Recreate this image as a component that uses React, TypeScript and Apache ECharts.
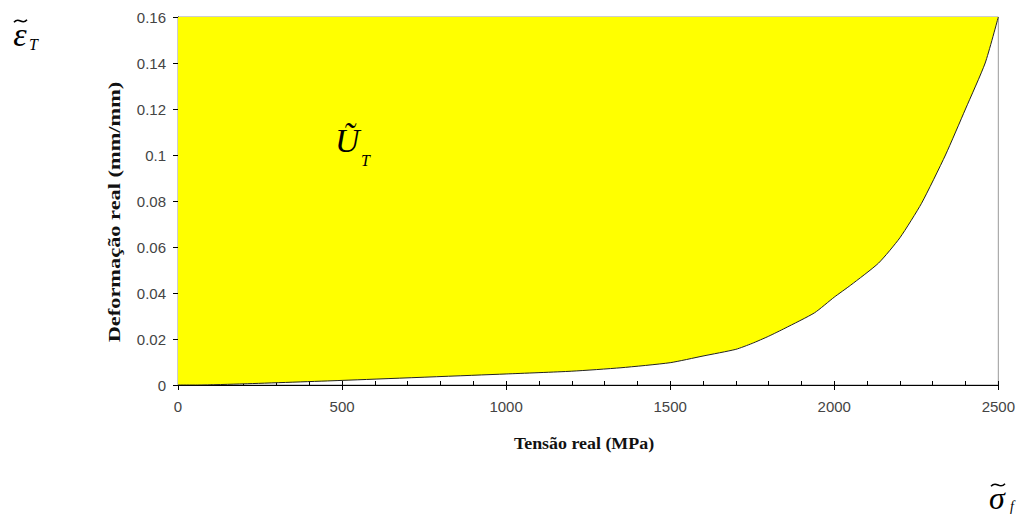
import React, { useEffect, useRef } from "react";
import * as echarts from "echarts";

// True stress (MPa) vs. true strain (mm/mm)
const stressMPa = [0, 60, 200, 500, 1000, 1200, 1350, 1500, 1600, 1700, 1750, 1800, 1850, 1940, 2000, 2050, 2135, 2200, 2266, 2339, 2400, 2460, 2500];
const strainValues = [0, 0, 0.0005, 0.002, 0.0048, 0.006, 0.0075, 0.0097, 0.0126, 0.0155, 0.0181, 0.0212, 0.0247, 0.0314, 0.0382, 0.0434, 0.053, 0.064, 0.079, 0.1, 0.12, 0.14, 0.16];

const xAxisTitle = "Tensão real (MPa)";
const yAxisTitle = "Deformação real (mm/mm)";

const serif = "'Liberation Serif', 'Times New Roman', serif";
const sans = "'Liberation Sans', Arial, sans-serif";

export default function App() {
  const ref = useRef<HTMLDivElement>(null);

  useEffect(() => {
    if (!ref.current) return;
    const chart = echarts.init(ref.current, undefined, { renderer: "svg" });

    const data = stressMPa.map((s, i) => [s, strainValues[i]]);

    const mathText = (
      x: number,
      y: number,
      text: string,
      size: number,
      align: string = "left"
    ) => ({
      type: "text",
      x,
      y,
      z: 100,
      style: {
        text,
        fontFamily: serif,
        fontStyle: "italic",
        fontSize: size,
        fill: "#000",
        align,
        verticalAlign: "middle",
      },
    });

    // a small wave drawn as the tilde accent over a symbol
    const tilde = (x1: number, x2: number, yMid: number) => {
      const w = x2 - x1;
      return {
        type: "bezierCurve",
        z: 100,
        shape: {
          x1,
          y1: yMid + 1.2,
          cpx1: x1 + w * 0.42,
          cpy1: yMid - 5,
          cpx2: x1 + w * 0.58,
          cpy2: yMid + 5,
          x2,
          y2: yMid - 1.2,
        },
        style: { stroke: "#000", lineWidth: 1.6, fill: null },
      };
    };

    chart.setOption({
      animation: false,
      backgroundColor: "#fff",
      grid: {
        left: 178,
        right: 19,
        top: 17,
        bottom: 130,
        show: true,
        borderColor: "#9a9a9a",
        borderWidth: 1,
        backgroundColor: "transparent",
      },
      xAxis: [
        {
          type: "value",
          min: 0,
          max: 2500,
          interval: 500,
          axisLine: { show: true, onZero: false, lineStyle: { color: "#000", width: 1 } },
          axisTick: { show: true, inside: false, length: 5, lineStyle: { color: "#000" } },
          axisLabel: {
            color: "#444",
            fontFamily: sans,
            fontSize: 15,
            margin: 14,
            formatter: (v: number) => String(v),
          },
          splitLine: { show: false },
        },
        {
          type: "value",
          min: 0,
          max: 2500,
          interval: 100,
          position: "bottom",
          axisLine: { show: false, onZero: false },
          axisTick: { show: true, inside: true, length: 4, lineStyle: { color: "#000" } },
          axisLabel: { show: false },
          splitLine: { show: false },
        },
      ],
      yAxis: [
        {
          type: "value",
          min: 0,
          max: 0.16,
          interval: 0.02,
          position: "left",
          axisLine: { show: true, onZero: false, lineStyle: { color: "#000", width: 1 } },
          axisTick: { show: true, inside: false, length: 5, lineStyle: { color: "#000" } },
          axisLabel: { color: "#444", fontFamily: sans, fontSize: 15, margin: 12 },
          splitLine: { show: false },
        },
        {
          type: "value",
          min: 0,
          max: 0.16,
          interval: 0.004,
          position: "left",
          offset: 0,
          axisLine: { show: false, onZero: false },
          axisTick: { show: true, inside: true, length: 4, lineStyle: { color: "#000" } },
          axisLabel: { show: false },
          splitLine: { show: false },
        },
      ],
      series: [
        {
          type: "line",
          xAxisIndex: 0,
          yAxisIndex: 0,
          data,
          smooth: 0.2,
          showSymbol: false,
          symbol: "none",
          lineStyle: { color: "#222", width: 1 },
          areaStyle: { color: "#ffff00", opacity: 1, origin: "end" },
          z: 1,
        },
      ],
      graphic: [
        // axis titles
        {
          type: "text",
          x: 584,
          y: 444,
          scaleX: 1.12,
          style: {
            text: xAxisTitle,
            fontFamily: serif,
            fontWeight: "bold",
            fontSize: 16,
            fill: "#111",
            align: "center",
            verticalAlign: "middle",
          },
        },
        {
          type: "text",
          x: 115,
          y: 212,
          rotation: Math.PI / 2,
          scaleX: 1.4,
          style: {
            text: yAxisTitle,
            fontFamily: serif,
            fontWeight: "bold",
            fontSize: 16,
            fill: "#111",
            align: "center",
            verticalAlign: "middle",
          },
        },
        // ε̃ with subscript T
        mathText(20, 34, "ε", 34, "center"),
        tilde(14, 27, 21),
        mathText(29, 44, "T", 16),
        // Ũ with subscript T
        mathText(335, 140, "\u0168", 34),
        mathText(361, 160, "T", 16),
        // σ̃ with subscript f
        mathText(997, 498, "σ", 32, "center"),
        tilde(991, 1005, 485),
        mathText(1010, 506, "f", 14),
      ],
    });

    return () => chart.dispose();
  }, []);

  return (
    <div
      ref={ref}
      style={{ position: "absolute", left: 0, top: 0, width: 1018, height: 515 }}
    />
  );
}
